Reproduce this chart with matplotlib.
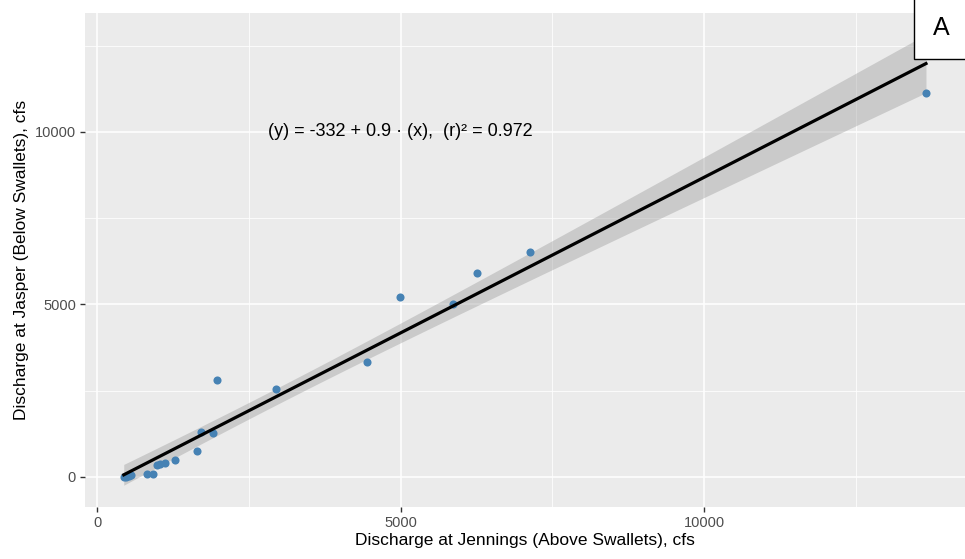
import numpy as np
import matplotlib
matplotlib.use("Agg")
import matplotlib.pyplot as plt
from matplotlib.ticker import MultipleLocator

plt.rcParams["font.family"] = ["Liberation Sans", "DejaVu Sans"]

# discharge readings, cfs
jennings = [440, 480, 520, 560, 829, 918, 984, 1038, 1120, 1285, 1642, 1713,
            1916, 1982, 2949, 4443, 4985, 5860, 6260, 7138, 13657]
jasper = [0, 10, 40, 70, 80, 80, 348, 377, 406, 493, 760, 1296,
          1284, 2812, 2540, 3342, 5217, 5014, 5913, 6530, 11130]
eq_label = "(y) = -332 + 0.9 \u00b7 (x),  (r)\u00b2 = 0.972"
x_ticks = [0, 5000, 10000]
y_ticks = [0, 5000, 10000]

x = np.array(jennings, dtype=float)
y = np.array(jasper, dtype=float)
n = len(x)

# ordinary least squares + 95% confidence band (like geom_smooth(method="lm"))
b1, b0 = np.polyfit(x, y, 1)
resid = y - (b0 + b1 * x)
s = np.sqrt(np.sum(resid ** 2) / (n - 2))
sxx = np.sum((x - x.mean()) ** 2)
df = n - 2
z = 1.959964
t = z + (z ** 3 + z) / (4 * df) + (5 * z ** 5 + 16 * z ** 3 + 3 * z) / (96 * df ** 2)
xs = np.linspace(x.min(), x.max(), 200)
fit = b0 + b1 * xs
se = s * np.sqrt(1 / n + (xs - x.mean()) ** 2 / sxx)

fig = plt.figure(figsize=(9.65, 5.59), dpi=100)
ax = fig.add_axes([0.088, 0.093, 0.912, 0.884])
ax.set_facecolor("#EBEBEB")

ax.fill_between(xs, fit - t * se, fit + t * se, color="#999999", alpha=0.4, lw=0, zorder=2)
ax.scatter(x, y, s=34, color="#4682B4", zorder=3, linewidths=0)
ax.plot(xs, fit, color="black", lw=2.3, zorder=4)

ax.text(5000, 10000, eq_label, ha="center", va="center", fontsize=13, color="black", zorder=5)

ax.set_xlim(-200, 14300)
ax.set_ylim(-870, 13450)
ax.set_xticks(x_ticks)
ax.set_yticks(y_ticks)
ax.xaxis.set_minor_locator(MultipleLocator(2500))
ax.yaxis.set_minor_locator(MultipleLocator(2500))
ax.grid(which="major", color="white", lw=1.1, zorder=0)
ax.grid(which="minor", color="white", lw=0.55, zorder=0)
ax.set_axisbelow(True)
for sp in ax.spines.values():
    sp.set_visible(False)
ax.tick_params(which="major", length=3.5, width=1, color="#333333", labelcolor="#4D4D4D",
               labelsize=10.5, pad=3)
ax.tick_params(which="minor", length=0)

ax.set_xlabel("Discharge at Jennings (Above Swallets), cfs", fontsize=12.5, labelpad=2)
ax.set_ylabel("Discharge at Jasper (Below Swallets), cfs", fontsize=12.5, labelpad=4)

# panel tag
fig.text(0.975, 0.95, "A", fontsize=18, ha="center", va="center",
         bbox=dict(boxstyle="square,pad=0.75", facecolor="white", edgecolor="black", lw=1.0))

fig.savefig("out.png", dpi=100)
